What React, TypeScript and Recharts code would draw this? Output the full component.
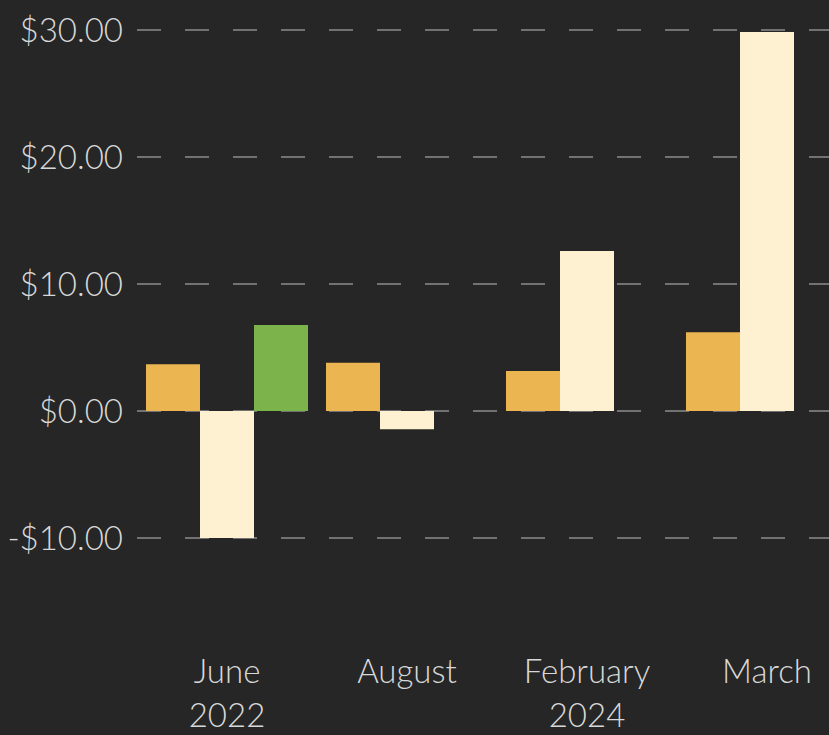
import React from "react";
import { BarChart, Bar, XAxis, YAxis, CartesianGrid } from "recharts";

const categories = ["June\n2022", "August", "February\n2024", "March"];
const seriesA = [3.68, 3.8, 3.15, 6.2];
const seriesB = [-10.0, -1.44, 12.6, 29.84];
const seriesC = [6.77, null, null, null];
const yTicks = [-10, 0, 10, 20, 30];

const data = categories.map((c, i) => ({
  name: c,
  a: seriesA[i],
  b: seriesB[i],
  c: seriesC[i],
}));

const FONT = "Lato, 'Open Sans', sans-serif";
const TEXT = "#d8d8d8";

const fmt = (v: number) => (v < 0 ? "-$" : "$") + Math.abs(v).toFixed(2);

const XTick = (props: any) => {
  const { x, y, payload } = props;
  const lines = String(payload.value).split("\n");
  return (
    <text x={x} y={y} textAnchor="middle" fill={TEXT} fontFamily={FONT} fontSize={33} fontWeight={300}>
      {lines.map((l, i) => (
        <tspan key={i} x={x} dy={i === 0 ? 73 : 44}>
          {l}
        </tspan>
      ))}
    </text>
  );
};

export default function App() {
  return (
    <div
      style={{
        position: "absolute",
        left: 0,
        top: 0,
        width: 829,
        height: 735,
        overflow: "hidden",
        background: "#262626",
      }}
    >
      <BarChart
        width={870}
        height={735}
        data={data}
        margin={{ top: 30, right: 13, left: 0, bottom: 0 }}
        barCategoryGap="5%"
        barGap={0}
      >
        <CartesianGrid
          vertical={false}
          stroke="#8c8c8c"
          strokeWidth={1.5}
          strokeDasharray="24 24"
          horizontalValues={yTicks}
        />
        <XAxis
          dataKey="name"
          axisLine={false}
          tickLine={false}
          height={133.5}
          tick={<XTick />}
          interval={0}
        />
        <YAxis
          domain={[-15, 30]}
          ticks={yTicks}
          width={137}
          axisLine={false}
          tickLine={false}
          tickMargin={8}
          tickFormatter={fmt}
          tick={{ fill: TEXT, fontFamily: FONT, fontSize: 33, fontWeight: 300 }}
          allowDataOverflow
        />
        <Bar dataKey="a" fill="#ebb552" isAnimationActive={false} />
        <Bar dataKey="b" fill="#fdf1d2" isAnimationActive={false} />
        <Bar dataKey="c" fill="#7cb34b" isAnimationActive={false} />
      </BarChart>
    </div>
  );
}
